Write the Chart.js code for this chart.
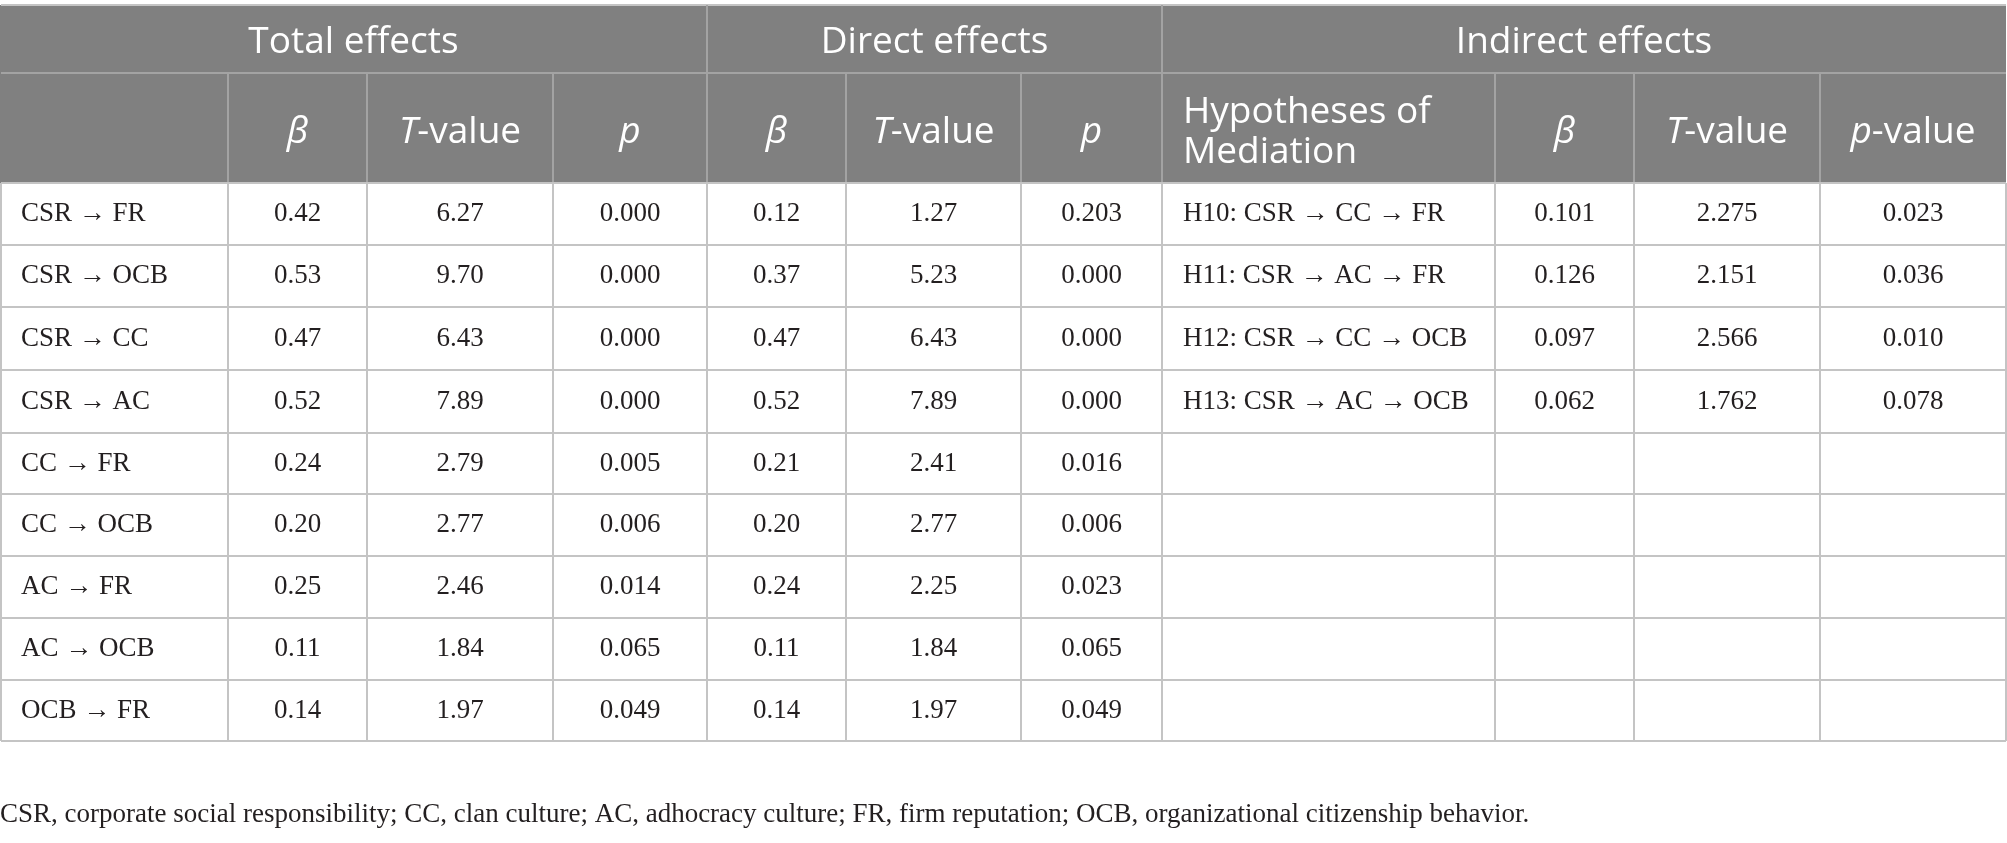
<!DOCTYPE html>
<html>
<head>
<meta charset="utf-8">
<script src="https://cdn.jsdelivr.net/npm/chart.js@4.4.1/dist/chart.umd.min.js"></script>
<style>
  html, body { margin: 0; padding: 0; background: #fff; }
  #wrap { width: 2007px; height: 843px; }
</style>
</head>
<body>
<div id="wrap"><canvas id="effects" width="2007" height="843"></canvas></div>
<script>
// table content
const groupTitles = ['Total effects', 'Direct effects', 'Indirect effects'];
// sub headers, each a list of [text, italic] runs
const subHeads = [
    [],
    [['β', 1]], [['T', 1], ['-value', 0]], [['p', 1]],
    [['β', 1]], [['T', 1], ['-value', 0]], [['p', 1]],
    [['Hypotheses of', 0]], [['β', 1]], [['T', 1], ['-value', 0]], [['p', 1], ['-value', 0]]
];
const mediationHead = ['Hypotheses of', 'Mediation'];

const paths = ['CSR → FR', 'CSR → OCB', 'CSR → CC', 'CSR → AC', 'CC → FR', 'CC → OCB', 'AC → FR', 'AC → OCB', 'OCB → FR'];
const totalBeta = [0.42, 0.53, 0.47, 0.52, 0.24, 0.20, 0.25, 0.11, 0.14];
const totalT = [6.27, 9.70, 6.43, 7.89, 2.79, 2.77, 2.46, 1.84, 1.97];
const totalP = [0.000, 0.000, 0.000, 0.000, 0.005, 0.006, 0.014, 0.065, 0.049];
const directBeta = [0.12, 0.37, 0.47, 0.52, 0.21, 0.20, 0.24, 0.11, 0.14];
const directT = [1.27, 5.23, 6.43, 7.89, 2.41, 2.77, 2.25, 1.84, 1.97];
const directP = [0.203, 0.000, 0.000, 0.000, 0.016, 0.006, 0.023, 0.065, 0.049];

const hypotheses = ['H10: CSR → CC → FR', 'H11: CSR → AC → FR', 'H12: CSR → CC → OCB', 'H13: CSR → AC → OCB'];
const indirectBeta = [0.101, 0.126, 0.097, 0.062];
const indirectT = [2.275, 2.151, 2.566, 1.762];
const indirectP = [0.023, 0.036, 0.010, 0.078];

const footnote = 'CSR, corporate social responsibility; CC, clan culture; AC, adhocracy culture; FR, firm reputation; OCB, organizational citizenship behavior.';

// layout (scale units, both scales run over the canvas size)
const colEdges = [0, 228, 367, 553, 707, 846, 1021, 1162, 1495, 1634, 1820, 2006];
const rowEdges = [5, 73, 183, 245, 307, 370, 433, 494, 556, 618, 680, 741];
const groupEdges = [0, 4, 7, 11]; // column index where each header group starts
const footY = 815;
const cellPad = 21;
const headSize = 37;
const bodySize = 27;

const headFill = '#808080';
const headLine = '#a3a3a3';
const bodyLine = '#c4c4c4';
const textColor = '#231f20';
const sansFont = '"Open Sans", "Noto Sans", sans-serif';
const serifFont = '"Liberation Serif", "DejaVu Serif", serif';

// one point per body cell, placed at the cell anchor
function buildCells() {
    const cells = [];
    const cols = [paths, totalBeta, totalT, totalP, directBeta, directT, directP];
    const digits = [0, 2, 2, 3, 2, 2, 3];
    paths.forEach((_, r) => {
        const yMid = (rowEdges[r + 2] + rowEdges[r + 3]) / 2;
        cols.forEach((col, c) => {
            const left = c === 0;
            cells.push({
                x: left ? colEdges[c] + cellPad : (colEdges[c] + colEdges[c + 1]) / 2,
                y: yMid,
                text: left ? col[r] : col[r].toFixed(digits[c]),
                align: left ? 'left' : 'center'
            });
        });
    });
    const icols = [hypotheses, indirectBeta, indirectT, indirectP];
    hypotheses.forEach((_, r) => {
        const yMid = (rowEdges[r + 2] + rowEdges[r + 3]) / 2;
        icols.forEach((col, k) => {
            const c = 7 + k;
            const left = k === 0;
            cells.push({
                x: left ? colEdges[c] + cellPad : (colEdges[c] + colEdges[c + 1]) / 2,
                y: yMid,
                text: left ? col[r] : col[r].toFixed(3),
                align: left ? 'left' : 'center'
            });
        });
    });
    return cells;
}

function drawRuns(ctx, runs, x, y, size, align) {
    const fonts = runs.map(r => (r[1] ? 'italic ' : '') + size + 'px ' + sansFont);
    let total = 0;
    const widths = runs.map((r, i) => { ctx.font = fonts[i]; const w = ctx.measureText(r[0]).width; total += w; return w; });
    let cx = align === 'center' ? x - total / 2 : x;
    runs.forEach((r, i) => {
        ctx.font = fonts[i];
        ctx.textAlign = 'left';
        ctx.fillText(r[0], cx, y);
        cx += widths[i];
    });
}

const tablePlugin = {
    id: 'tablePlugin',
    beforeDatasetsDraw(chart) {
        const { ctx, scales: { x, y } } = chart;
        const px = v => x.getPixelForValue(v);
        const py = v => y.getPixelForValue(v);
        ctx.save();
        // header background
        ctx.fillStyle = headFill;
        ctx.fillRect(px(colEdges[0]), py(rowEdges[0]), px(colEdges[11]) - px(colEdges[0]), py(rowEdges[2]) - py(rowEdges[0]));

        const line = (x1, y1, x2, y2, color) => {
            ctx.strokeStyle = color;
            ctx.lineWidth = 2;
            ctx.beginPath();
            ctx.moveTo(px(x1), py(y1));
            ctx.lineTo(px(x2), py(y2));
            ctx.stroke();
        };
        const xL = colEdges[0] + 1, xR = colEdges[11];
        // header lines
        line(xL, rowEdges[0], xR, rowEdges[0], bodyLine);
        line(xL, rowEdges[1], xR, rowEdges[1], headLine);
        groupEdges.slice(1, -1).forEach(g => line(colEdges[g], rowEdges[0], colEdges[g], rowEdges[1], headLine));
        colEdges.slice(1, -1).forEach(c => line(c, rowEdges[1], c, rowEdges[2], headLine));
        // body lines
        rowEdges.slice(2).forEach(r => line(xL, r, xR, r, bodyLine));
        colEdges.forEach((c, i) => {
            const cc = i === 0 ? c + 1 : c;
            line(cc, rowEdges[2], cc, rowEdges[rowEdges.length - 1], bodyLine);
        });
        ctx.restore();
    },
    afterDatasetsDraw(chart) {
        const { ctx, scales: { x, y } } = chart;
        const px = v => x.getPixelForValue(v);
        const py = v => y.getPixelForValue(v);
        ctx.save();
        ctx.textBaseline = 'middle';
        ctx.fillStyle = '#ffffff';
        // group titles
        groupTitles.forEach((t, i) => {
            const xm = (colEdges[groupEdges[i]] + colEdges[groupEdges[i + 1]]) / 2;
            drawRuns(ctx, [[t, 0]], px(xm), py((rowEdges[0] + rowEdges[1]) / 2 + 3), headSize, 'center');
        });
        // sub headers
        const yHead = (rowEdges[1] + rowEdges[2]) / 2 + 4;
        subHeads.forEach((runs, c) => {
            if (!runs.length) return;
            if (c === 7) {
                mediationHead.forEach((t, k) => {
                    drawRuns(ctx, [[t, 0]], px(colEdges[c] + cellPad), py(yHead + (k - 0.5) * 40), headSize, 'left');
                });
                return;
            }
            drawRuns(ctx, runs, px((colEdges[c] + colEdges[c + 1]) / 2), py(yHead), headSize, 'center');
        });
        // body cells from the dataset elements
        const meta = chart.getDatasetMeta(0);
        const cells = chart.data.datasets[0].data;
        ctx.fillStyle = textColor;
        ctx.font = bodySize + 'px ' + serifFont;
        meta.data.forEach((pt, i) => {
            ctx.textAlign = cells[i].align;
            ctx.fillText(cells[i].text, pt.x, pt.y);
        });
        // footnote
        ctx.textAlign = 'left';
        ctx.font = bodySize + 'px ' + serifFont;
        ctx.fillText(footnote, px(0), py(footY));
        ctx.restore();
    }
};

document.addEventListener('DOMContentLoaded', () => {
    const ctx = document.getElementById('effects').getContext('2d');
    window.effectsTable = new Chart(ctx, {
        type: 'scatter',
        data: {
            datasets: [{
                data: buildCells(),
                pointRadius: 0,
                pointHoverRadius: 0
            }]
        },
        options: {
            responsive: false,
            animation: false,
            devicePixelRatio: 1,
            layout: { padding: 0 },
            events: [],
            plugins: { legend: { display: false }, tooltip: { enabled: false } },
            scales: {
                x: { type: 'linear', min: 0, max: 2007, display: false },
                y: { type: 'linear', min: 0, max: 843, reverse: true, display: false }
            }
        },
        plugins: [tablePlugin]
    });
});
</script>
</body>
</html>
